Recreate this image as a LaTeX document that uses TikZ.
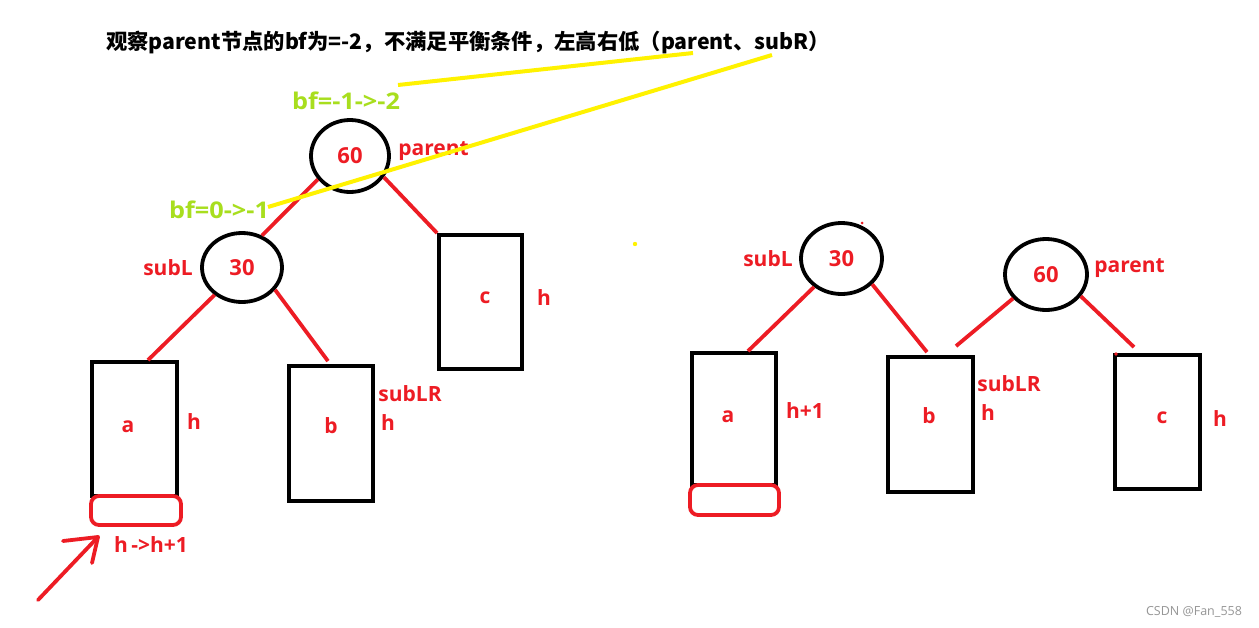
\documentclass[tikz,border=0pt]{standalone}
\usepackage{fontspec}
\setmainfont{Open Sans}
\newfontfamily\cjkfont{Noto Sans CJK SC}
\usetikzlibrary{shapes.geometric,calc}
\definecolor{pred}{RGB}{237,28,36}
\definecolor{pyellow}{RGB}{255,242,0}
\definecolor{plime}{RGB}{168,222,30}
\definecolor{wmgray}{RGB}{150,150,150}
\begin{document}
\begin{tikzpicture}[x=1pt,y=-1pt,
  bnode/.style={ellipse,draw=black,line width=3.8pt,inner sep=0pt,text=pred,
    font=\bfseries\fontsize{22}{22}\selectfont},
  tbox/.style={rectangle,draw=black,line width=3.8pt,inner sep=0pt},
  rbox/.style={rectangle,draw=pred,line width=3.8pt,inner sep=0pt,rounded corners=8pt},
  rlbl/.style={text=pred,font=\bfseries\fontsize{21}{21}\selectfont,inner sep=0pt},
  glbl/.style={text=plime,font=\bfseries\fontsize{23}{23}\selectfont,inner sep=0pt},
  edge/.style={draw=pred,line width=3.8pt},
  yline/.style={draw=pyellow,line width=4pt}
]
\useasboundingbox (0,0) rectangle (1259,627);
\fill[white] (0,0) rectangle (1259,627);

% title
\node[inner sep=0pt,font=\cjkfont\bfseries\fontsize{21.3}{21.3}\selectfont] (title) at (468,42)
  {观察parent节点的bf为=-2，不满足平衡条件，左高右低（parent、subR）};

% ---------- left tree ----------
\node[bnode,minimum width=78pt,minimum height=72pt] (n60L) at (350,156) {60};
\node[bnode,minimum width=80pt,minimum height=69pt] (n30L) at (242,267.5) {30};
\node[tbox,minimum width=85pt,minimum height=134pt] (aL) at (134.5,429) {};
\node[tbox,minimum width=84pt,minimum height=135pt] (bL) at (331,433.5) {};
\node[tbox,minimum width=83pt,minimum height=134pt] (cL) at (480.5,302) {};
\node[rbox,minimum width=90pt,minimum height=29pt] (rL) at (136,510.5) {};

\draw[edge] (n60L.216) -- (n30L.58);
\draw[edge] (n60L.328) -- (cL.north west);
\draw[edge] (n30L.225) -- ($(aL.north)+(13.5,0)$);
\draw[edge] (n30L.326) -- ($(bL.north)+(-3,-3)$);

\node[rlbl] (parL) at (433.5,151) {parent};
\node[rlbl] (subLL) at (168,268) {subL};
\node[rlbl] (cLt) at (485,298) {c};
\node[rlbl] (cLh) at (544,298) {h};
\node[rlbl] (aLt) at (128,427) {a};
\node[rlbl] (aLh) at (194,422) {h};
\node[rlbl] (bLt) at (331,426) {b};
\node[rlbl] (bLs) at (410,394) {subLR};
\node[rlbl] (bLh) at (388,423) {h};
\node[rlbl] (hh) at (151,545) {h\,->h+1};

% hand-drawn arrow
\coordinate (atail) at (38,600);
\coordinate (atip) at (98,537);
\coordinate (abarb1) at (63,541);
\coordinate (abarb2) at (92,563);
\draw[edge,line cap=round,line join=round] (atail) -- (atip);
\draw[edge,line cap=round,line join=round] (abarb1) -- (atip) -- (abarb2);

% ---------- right tree ----------
\node[bnode,minimum width=81pt,minimum height=71pt] (n30R) at (841.5,258.5) {30};
\node[bnode,minimum width=82pt,minimum height=71pt] (n60R) at (1046,274.5) {60};
\node[tbox,minimum width=84pt,minimum height=132pt] (aR) at (734,419) {};
\node[tbox,minimum width=85pt,minimum height=135pt] (bR) at (930.5,424.5) {};
\node[tbox,minimum width=85pt,minimum height=134pt] (cR) at (1157.5,422) {};
\node[rbox,minimum width=89pt,minimum height=30pt] (rR) at (734.5,500) {};

\draw[edge] (n30R.226) -- ($(aR.north)+(14,0)$);
\draw[edge] (n30R.320) -- ($(bR.north)+(-3.5,-3)$);
\draw[edge] (n60R.216) -- ($(bR.north)+(25.5,-9)$);
\draw[edge] (n60R.328) -- ($(cR.north)+(-23.5,-6)$);

\node[rlbl] (subLR2) at (768,259) {subL};
\node[rlbl] (parR) at (1129.5,268) {parent};
\node[rlbl] (aRt) at (728,417) {a};
\node[rlbl] (aRh) at (805,411) {h+1};
\node[rlbl] (bRt) at (929,416) {b};
\node[rlbl] (bRs) at (1009,384) {subLR};
\node[rlbl] (bRh) at (988,413) {h};
\node[rlbl] (cRt) at (1162,418) {c};
\node[rlbl] (cRh) at (1220,419) {h};

% small stray marks
\coordinate (dot1) at (862,223);
\coordinate (dot2) at (1116,354);
\coordinate (dot3) at (635,244);
\fill[pred] (dot1) circle (1.5);
\fill[pred] (dot2) circle (1.8);
\fill[pyellow] (dot3) circle (2.2);

% ---------- yellow annotations ----------
\node[glbl] (bf1) at (346,101) {\scalebox{1.1}[1]{bf=-1->-2}};
\node[glbl] (bf2) at (219,210) {\scalebox{1.1}[1]{bf=0->-1}};
\coordinate (y1a) at (693,53);
\coordinate (y1b) at (398,85);
\coordinate (y2a) at (772,55);
\coordinate (y2b) at (268,207);
\draw[yline] (y1a) -- (y1b);
\draw[yline] (y2a) -- (y2b);

% watermark
\node[inner sep=0pt,text=wmgray,font=\fontsize{12.5}{12.5}\selectfont] (wm) at (1194,612) {CSDN @Fan\_558};
\end{tikzpicture}
\end{document}
